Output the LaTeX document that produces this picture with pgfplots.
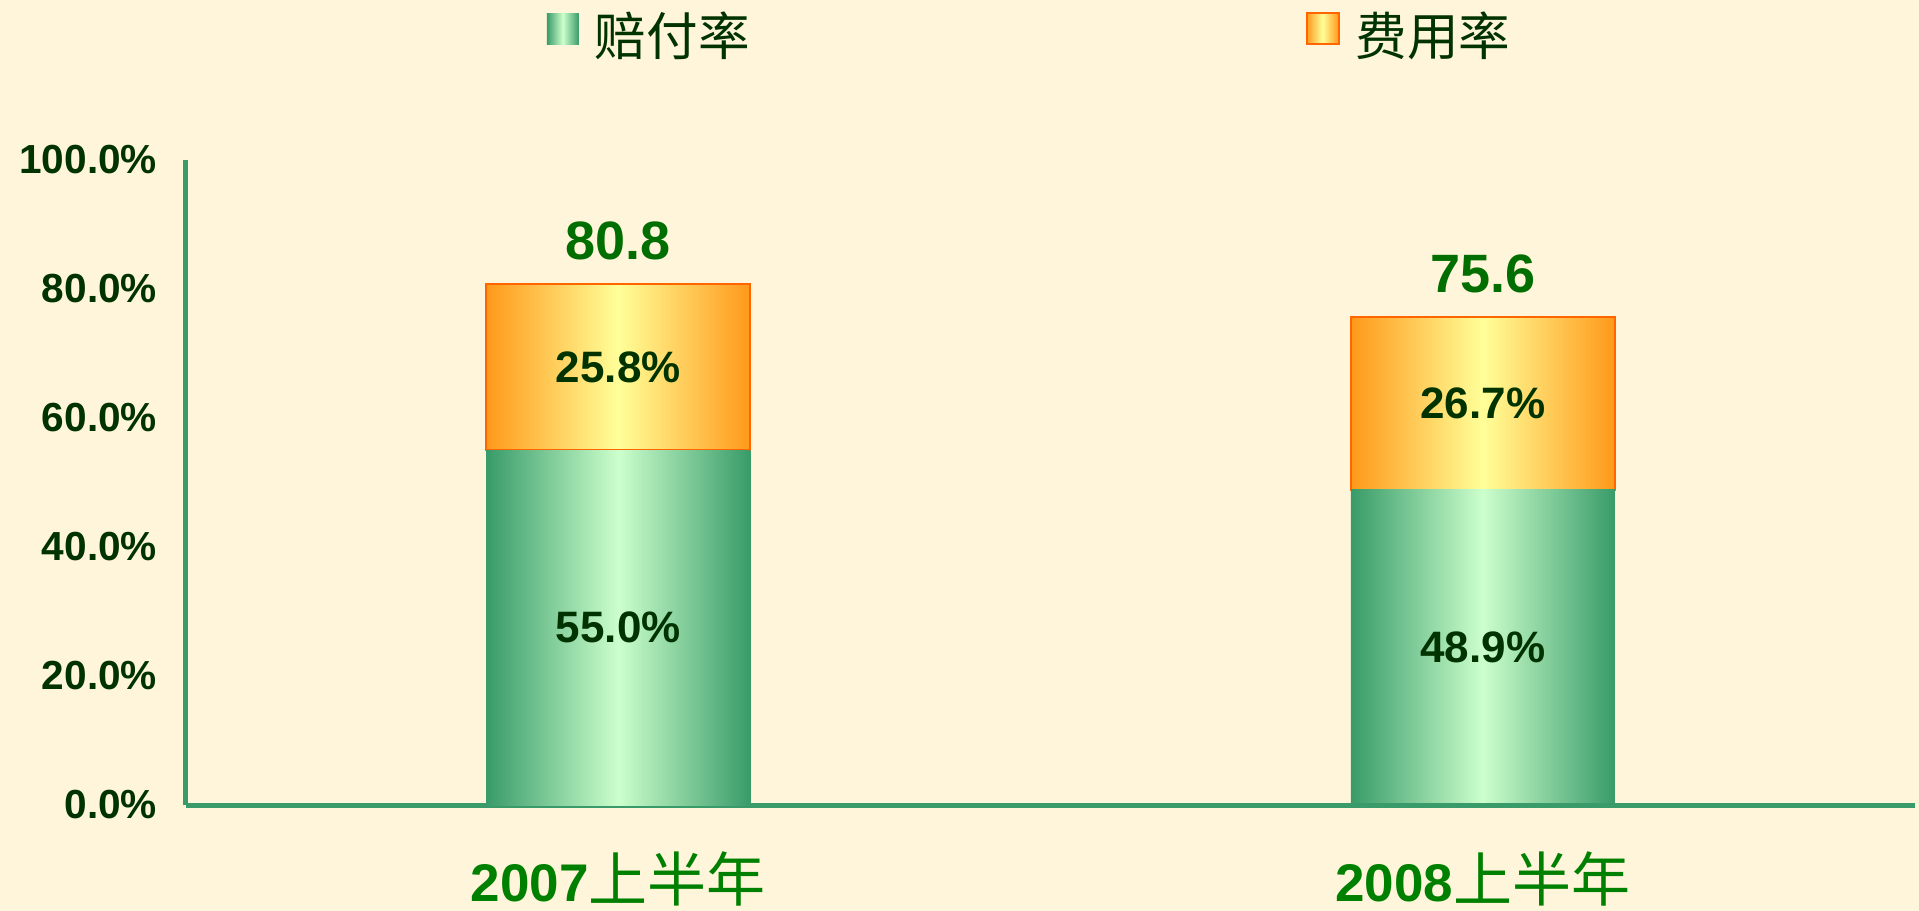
\documentclass[border=0pt]{standalone}
\usepackage{fontspec}
\setmainfont{Liberation Sans}
\newfontfamily\cjk{Noto Sans CJK SC}
\usepackage{pgfplots}
\pgfplotsset{compat=1.18}
\definecolor{bg}{RGB}{255,245,218}
\definecolor{axgreen}{RGB}{56,155,105}
\definecolor{gdark}{RGB}{56,155,105}
\definecolor{glight}{RGB}{204,255,204}
\definecolor{odark}{RGB}{255,153,26}
\definecolor{olight}{RGB}{255,255,153}
\definecolor{oborder}{RGB}{255,102,0}
\definecolor{tickgreen}{RGB}{0,51,0}
\definecolor{totgreen}{RGB}{0,110,0}
\definecolor{catgreen}{RGB}{0,128,0}
\newcommand\inlab{\color{tickgreen}\bfseries\fontsize{22}{26}\selectfont}
\newcommand\totlab{\color{totgreen}\bfseries\fontsize{27}{32}\selectfont}
\pgfplotsset{
  base/.style={
    scale only axis, width=864.5pt, height=322.5pt,
    enlargelimits=false,
    xmin=0.5, xmax=2.5, ymin=0, ymax=100,
  },
  greenbar/.style={draw=none, left color=gdark, right color=gdark, middle color=glight},
  orangebar/.style={draw=oborder, line width=1pt, left color=odark, right color=odark, middle color=olight},
}
\begin{document}
\begin{tikzpicture}
\fill[bg] (-93pt,-53pt) rectangle (866.5pt,402.5pt);
% second bar (drawn first so that the axis line lies over it)
\begin{axis}[base, hide axis, ybar stacked, bar width=132pt]
\addplot[greenbar] coordinates {(2,48.9)};
\addplot[orangebar] coordinates {(2,26.7)};
\end{axis}
% first bar, axes, legend
\begin{axis}[base, ybar stacked, bar width=132pt,
  xtick={1,2},
  xticklabels={{\bfseries\fontsize{26.5}{32}\selectfont 2007}{\cjk\fontsize{29.5}{36}\selectfont 上半年},{\bfseries\fontsize{26.5}{32}\selectfont 2008}{\cjk\fontsize{29.5}{36}\selectfont 上半年}},
  xticklabel style={text=catgreen, anchor=north, inner sep=0pt, yshift=-23pt},
  ytick={0,20,40,60,80,100},
  yticklabels={0.0\%,20.0\%,40.0\%,60.0\%,80.0\%,100.0\%},
  yticklabel style={text=tickgreen, font=\bfseries\fontsize{20.3}{24}\selectfont, anchor=east, inner sep=0pt, xshift=-14.3pt},
  axis x line=bottom, axis y line=left,
  axis line style={axgreen, line width=2.5pt, -},
  major tick length=0pt,
  legend style={draw=none, fill=none, at={(0.4885,1.193)}, anchor=center,
    legend columns=2, font=\cjk\fontsize{25.8}{30}\selectfont, text=tickgreen,
    /tikz/every even column/.append style={column sep=276pt}},
  legend image code/.code={\path[#1] (0pt,-4.4pt) rectangle (16pt,11.1pt); \path (22pt,0pt);},
]
\addplot[greenbar] coordinates {(1,55.0)};
\addlegendentry{赔付率}
\addplot[orangebar] coordinates {(1,25.8)};
\addlegendentry{费用率}
\end{axis}
% value labels
\begin{axis}[base, hide axis]
\addplot[only marks, mark=none, point meta=explicit symbolic, nodes near coords,
  nodes near coords style={anchor=center, inner sep=0pt}]
  coordinates {
    (1,27.5)[{\inlab 55.0\%}] (1,67.9)[{\inlab 25.8\%}] (1,87.5)[{\totlab 80.8}]
    (2,24.45)[{\inlab 48.9\%}] (2,62.25)[{\inlab 26.7\%}] (2,82.3)[{\totlab 75.6}]
  };
\end{axis}
\pgfresetboundingbox
\path (-93pt,-53pt) rectangle (866.5pt,402.5pt);
\end{tikzpicture}
\end{document}
